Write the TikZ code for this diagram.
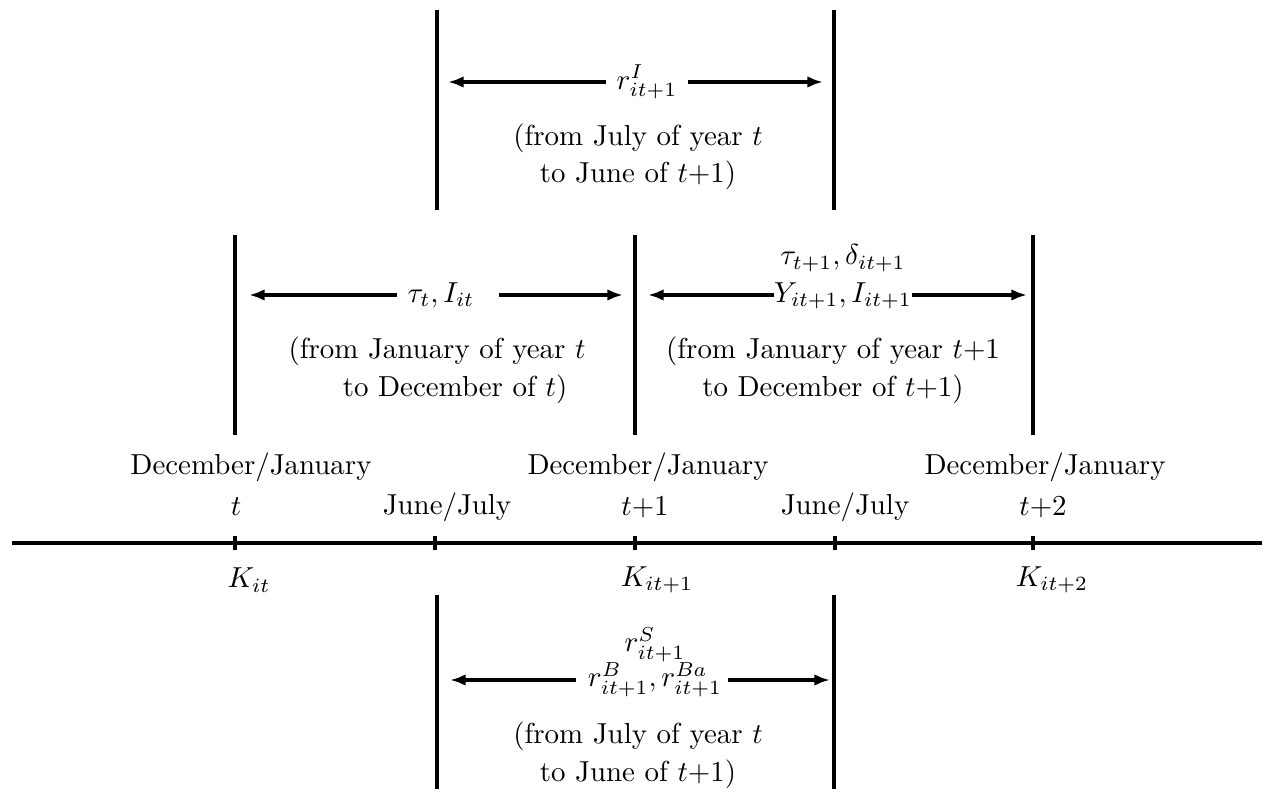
\documentclass[tikz,border=0pt]{standalone}
\usetikzlibrary{arrows.meta}
\tikzset{
    bar/.style={line width=1.3pt},
    span/.style={line width=1.1pt,-{Latex[length=5.4pt,width=4pt]}},
    note/.style={align=center,inner sep=0pt},
}
\begin{document}
\begin{tikzpicture}[x=1.216cm,y=1.216cm]
    \useasboundingbox (0,0) rectangle (12.64,7.89);
    % time line
    \draw [line width=1.2pt] (0.12,2.46) -- (12.62,2.46);
    \foreach \x in {2.35,4.35,6.35,8.35,10.33}
        \draw [line width=1.1pt] (\x,2.39) -- (\x,2.53);
    \node (dec0) at (2.51,3.22) {December/January};
    \node (dec1) at (6.48,3.22) {December/January};
    \node (dec2) at (10.45,3.22) {December/January};
    \node (t0) at (2.36,2.82) {$t$};
    \node (t1) at (6.45,2.82) {$t{+}1$};
    \node (t2) at (10.43,2.82) {$t{+}2$};
    \node (jun0) at (4.47,2.82) {June/July};
    \node (jun1) at (8.45,2.82) {June/July};
    \node (k0) at (2.49,2.09) {$K_{it}$};
    \node (k1) at (6.57,2.09) {$K_{it+1}$};
    \node (k2) at (10.52,2.09) {$K_{it+2}$};
    % top bracket
    \draw [bar] (4.37,5.79) -- (4.37,7.79);
    \draw [bar] (8.34,5.79) -- (8.34,7.79);
    \node (rI) at (6.47,7.07) {$r^I_{it+1}$};
    \coordinate (rIl) at (4.48,7.07);
    \coordinate (rIr) at (8.23,7.07);
    \draw [span] (rI) -- (rIl);
    \draw [span] (rI) -- (rIr);
    \node [note] (noteI) at (6.38,6.32) {(from July of year $t$\\[1pt] to June of $t{+}1$)};
    % middle brackets
    \draw [bar] (2.35,3.54) -- (2.35,5.54);
    \draw [bar] (6.35,3.54) -- (6.35,5.54);
    \draw [bar] (10.33,3.54) -- (10.33,5.54);
    \node (tau) at (4.41,4.94) {$\tau_t, I_{it}$};
    \coordinate (taul) at (2.49,4.94);
    \coordinate (taur) at (6.23,4.94);
    \draw [span] (tau) -- (taul);
    \draw [span] ([xshift=5pt]tau.east) -- (taur);
    \node [note] (notetau) at (4.37,4.19) {(from January of year $t$\\[1pt] \hspace*{1.25em}to December of $t$)};
    \node [note] (ylab) at (8.43,5.12) {$\tau_{t+1}, \delta_{it+1}$\\[1pt] $Y_{it+1}, I_{it+1}$};
    \coordinate (yl) at (6.48,4.94);
    \coordinate (yr) at (10.27,4.94);
    \draw [span] (ylab.west |- yl) -- (yl);
    \draw [span] (ylab.east |- yr) -- (yr);
    \node [note] (notey) at (8.33,4.19) {(from January of year $t{+}1$\\[1pt] to December of $t{+}1$)};
    % bottom bracket
    \draw [bar] (4.37,0) -- (4.37,1.94);
    \draw [bar] (8.34,0) -- (8.34,1.94);
    \node [note] (rS) at (6.55,1.27) {$r^S_{it+1}$\\ $r^B_{it+1}, r^{Ba}_{it+1}$};
    \coordinate (rSl) at (4.50,1.09);
    \coordinate (rSr) at (8.30,1.09);
    \draw [span] ([xshift=-4pt]rS.west |- rSl) -- (rSl);
    \draw [span] ([xshift=2pt]rS.east |- rSr) -- (rSr);
    \node [note] (noteS) at (6.38,0.34) {(from July of year $t$\\[1pt] to June of $t{+}1$)};
\end{tikzpicture}
\end{document}
